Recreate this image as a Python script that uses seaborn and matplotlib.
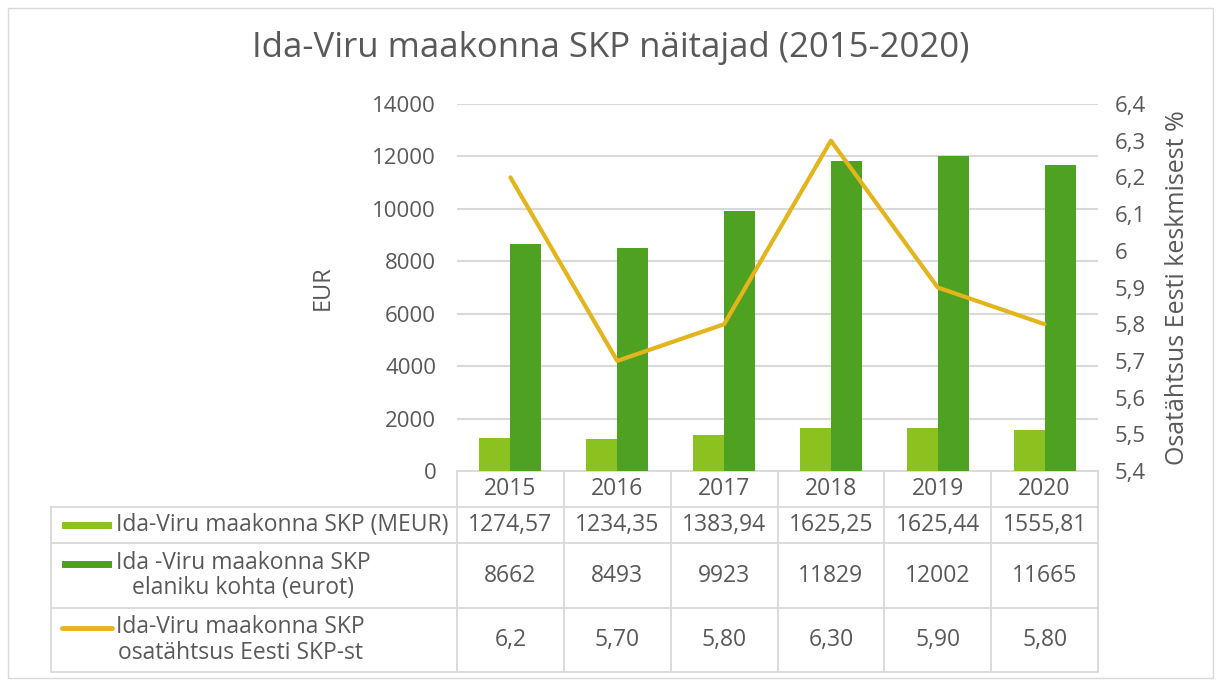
import pandas as pd
import numpy as np
import matplotlib
matplotlib.use("Agg")
import matplotlib.pyplot as plt
import matplotlib.ticker as mticker
from matplotlib.patches import Rectangle
import seaborn as sns

# andmed
years = ["2015", "2016", "2017", "2018", "2019", "2020"]
skp_meur = [1274.57, 1234.35, 1383.94, 1625.25, 1625.44, 1555.81]
skp_elaniku = [8662, 8493, 9923, 11829, 12002, 11665]
osatahtsus = [6.2, 5.7, 5.8, 6.3, 5.9, 5.8]
# tabelis näidatud tekstid (nagu originaalis)
meur_txt = ["1274,57", "1234,35", "1383,94", "1625,25", "1625,44", "1555,81"]
elaniku_txt = ["8662", "8493", "9923", "11829", "12002", "11665"]
osa_txt = ["6,2", "5,70", "5,80", "6,30", "5,90", "5,80"]

series = ["Ida-Viru maakonna SKP (MEUR)",
          "Ida -Viru maakonna SKP\nelaniku kohta (eurot)",
          "Ida-Viru maakonna SKP\nosatähtsus Eesti SKP-st"]
c_light = "#8cc21f"
c_dark = "#4fa122"
c_line = "#e3b41c"
txt_col = "#595959"
grid_col = "#d9d9d9"

df = pd.DataFrame({
    "aasta": years * 2,
    "seeria": [series[0]] * 6 + [series[1]] * 6,
    "vaartus": skp_meur + skp_elaniku,
})

sns.set_style("white")
plt.rcParams["font.family"] = ["Open Sans", "DejaVu Sans"]
plt.rcParams["text.color"] = txt_col
plt.rcParams["axes.labelcolor"] = txt_col
plt.rcParams["xtick.color"] = txt_col
plt.rcParams["ytick.color"] = txt_col

W, H = 1221, 682
fig = plt.figure(figsize=(W / 100, H / 100), dpi=100)

# plot area in pixels
px0, px1, py0, py1 = 457, 1098, 104, 471
ax = fig.add_axes([px0 / W, 1 - py1 / H, (px1 - px0) / W, (py1 - py0) / H])

sns.barplot(data=df, x="aasta", y="vaartus", hue="seeria",
            palette=[c_light, c_dark], saturation=1, width=0.58, gap=0,
            legend=False, ax=ax, edgecolor="none", linewidth=0)
ax.set_ylim(0, 14000)
ax.set_yticks(range(0, 14001, 2000))
ax.grid(axis="y", color=grid_col, linewidth=1.5)
ax.set_axisbelow(True)
ax.set_xticks([])
ax.set_xlabel("")
ax.set_ylabel("EUR", fontsize=17, labelpad=27)
ax.tick_params(axis="y", labelsize=16, length=0, pad=15)
for s in ax.spines.values():
    s.set_visible(False)

ax2 = ax.twinx()
sns.pointplot(x=years, y=osatahtsus, color=c_line, markers="", linewidth=3,
              ax=ax2, errorbar=None)
ax2.set_ylim(5.4, 6.4)
ax2.set_yticks(np.arange(5.4, 6.41, 0.1))
ax2.yaxis.set_major_formatter(mticker.FuncFormatter(
    lambda v, p: ("%g" % round(v, 1)).replace(".", ",")))
ax2.tick_params(axis="y", labelsize=16, length=0, pad=12)
ax2.set_ylabel("Osatähtsus Eesti keskmisest %", fontsize=18, labelpad=14)
ax2.set_xlim(-0.5, 5.5)
ax2.set_xticks([])
ax2.set_xlabel("")
for s in ax2.spines.values():
    s.set_visible(False)

fig.text(0.5, 1 - 48 / H, "Ida-Viru maakonna SKP näitajad (2015-2020)",
         ha="center", va="center", fontsize=25, color=txt_col)

# andmetabel
tab = fig.add_axes([0, 0, 1, 1], zorder=-1)
tab.set_xlim(0, W)
tab.set_ylim(H, 0)
tab.axis("off")
tab.patch.set_alpha(0)

lx = 51
rows = [471, 507, 543, 608, 672]
cw = (px1 - px0) / len(years)
edges = [px0 + k * cw for k in range(len(years) + 1)]
lw = 1.3
tab.plot([px0, px1], [rows[0], rows[0]], color=grid_col, lw=lw)
for r in rows[1:]:
    tab.plot([lx, px1], [r, r], color=grid_col, lw=lw)
tab.plot([lx, lx], [rows[1], rows[-1]], color=grid_col, lw=lw)
for e in edges:
    tab.plot([e, e], [rows[0], rows[-1]], color=grid_col, lw=lw)

fs = 16.5
for k, y in enumerate(years):
    cx = px0 + (k + 0.5) * cw
    tab.text(cx, (rows[0] + rows[1]) / 2, y, ha="center", va="center", fontsize=fs)
    tab.text(cx, (rows[1] + rows[2]) / 2, meur_txt[k], ha="center", va="center", fontsize=fs)
    tab.text(cx, (rows[2] + rows[3]) / 2, elaniku_txt[k], ha="center", va="center", fontsize=fs)
    tab.text(cx, (rows[3] + rows[4]) / 2, osa_txt[k], ha="center", va="center", fontsize=fs)

keys = [(c_light, "bar"), (c_dark, "bar"), (c_line, "line")]
for i, (col, kind) in enumerate(keys):
    r0, r1 = rows[i + 1], rows[i + 2]
    cy = (r0 + r1) / 2
    tab.text(116, cy, series[i], ha="left", va="center", fontsize=fs,
             multialignment="center", linespacing=1.1)
    ky = cy if i == 0 else cy - 12
    if kind == "bar":
        tab.add_patch(Rectangle((62, ky - 3), 50, 7, color=col, lw=0))
    else:
        tab.plot([62, 112], [ky, ky], color=col, lw=3.5, solid_capstyle="round")

# diagrammi ala raam
fig.patches.append(Rectangle((8 / W, 4 / H), (W - 16) / W, (H - 12) / H,
                             transform=fig.transFigure, fill=False,
                             edgecolor=grid_col, lw=1))

fig.savefig("out.png", dpi=100)
